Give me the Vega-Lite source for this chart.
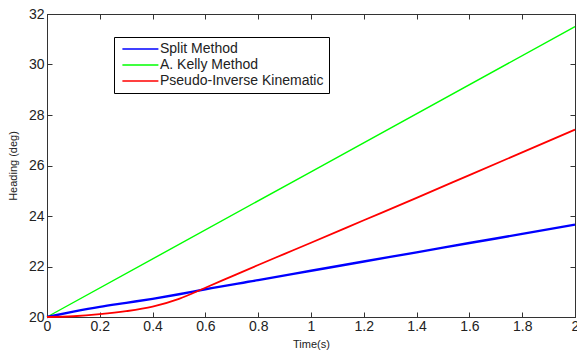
{
  "$schema": "https://vega.github.io/schema/vega-lite/v6.json",
  "width": 528,
  "height": 303,
  "autosize": {"type": "none"},
  "padding": {"left": 47, "top": 14, "right": 2, "bottom": 35},
  "background": "white",
  "config": {
    "view": {"stroke": "#333", "strokeWidth": 1},
    "axis": {
      "grid": false,
      "domainColor": "#333",
      "tickColor": "#333",
      "tickSize": -5,
      "labelColor": "#222",
      "labelFont": "Liberation Sans",
      "labelFontSize": 14,
      "titleFont": "Liberation Sans",
      "titleFontSize": 11,
      "titleFontWeight": "normal",
      "titleColor": "#222"
    },
    "legend": {
      "labelFont": "Liberation Sans",
      "labelFontSize": 14,
      "labelColor": "#222"
    }
  },
  "data": {
    "values": [
      {"t": 0, "v": 20, "series": "Split Method"},
      {"t": 0.1, "v": 20.21, "series": "Split Method"},
      {"t": 0.2, "v": 20.4, "series": "Split Method"},
      {"t": 0.3, "v": 20.56, "series": "Split Method"},
      {"t": 0.4, "v": 20.72, "series": "Split Method"},
      {"t": 0.5, "v": 20.9, "series": "Split Method"},
      {"t": 0.6, "v": 21.1, "series": "Split Method"},
      {"t": 0.8, "v": 21.46, "series": "Split Method"},
      {"t": 1.0, "v": 21.83, "series": "Split Method"},
      {"t": 1.2, "v": 22.2, "series": "Split Method"},
      {"t": 1.4, "v": 22.56, "series": "Split Method"},
      {"t": 1.6, "v": 22.93, "series": "Split Method"},
      {"t": 1.8, "v": 23.29, "series": "Split Method"},
      {"t": 2.0, "v": 23.66, "series": "Split Method"},
      {"t": 0, "v": 20, "series": "A. Kelly Method"},
      {"t": 1.0, "v": 25.75, "series": "A. Kelly Method"},
      {"t": 2.0, "v": 31.5, "series": "A. Kelly Method"},
      {"t": 0, "v": 20, "series": "Pseudo-Inverse Kinematic"},
      {"t": 0.1, "v": 20.03, "series": "Pseudo-Inverse Kinematic"},
      {"t": 0.2, "v": 20.11, "series": "Pseudo-Inverse Kinematic"},
      {"t": 0.3, "v": 20.23, "series": "Pseudo-Inverse Kinematic"},
      {"t": 0.4, "v": 20.41, "series": "Pseudo-Inverse Kinematic"},
      {"t": 0.5, "v": 20.72, "series": "Pseudo-Inverse Kinematic"},
      {"t": 0.6, "v": 21.16, "series": "Pseudo-Inverse Kinematic"},
      {"t": 0.7, "v": 21.61, "series": "Pseudo-Inverse Kinematic"},
      {"t": 0.8, "v": 22.06, "series": "Pseudo-Inverse Kinematic"},
      {"t": 0.9, "v": 22.5, "series": "Pseudo-Inverse Kinematic"},
      {"t": 1.0, "v": 22.94, "series": "Pseudo-Inverse Kinematic"},
      {"t": 1.2, "v": 23.83, "series": "Pseudo-Inverse Kinematic"},
      {"t": 1.4, "v": 24.72, "series": "Pseudo-Inverse Kinematic"},
      {"t": 1.6, "v": 25.62, "series": "Pseudo-Inverse Kinematic"},
      {"t": 1.8, "v": 26.52, "series": "Pseudo-Inverse Kinematic"},
      {"t": 2.0, "v": 27.42, "series": "Pseudo-Inverse Kinematic"}
    ]
  },
  "layer": [
    {
      "encoding": {
        "x": {
          "field": "t", "type": "quantitative",
          "scale": {"domain": [0, 2], "nice": false, "zero": false},
          "axis": {
            "values": [0, 0.2, 0.4, 0.6, 0.8, 1, 1.2, 1.4, 1.6, 1.8, 2],
            "format": "~g",
            "labelPadding": 7,
            "labelFlush": false,
            "title": "Time(s)",
            "titleX": 264, "titleY": 27, "titleBaseline": "middle"
          }
        },
        "y": {
          "field": "v", "type": "quantitative",
          "scale": {"domain": [20, 32], "nice": false, "zero": false},
          "axis": {
            "values": [20, 22, 24, 26, 28, 30, 32],
            "labelPadding": 8,
            "title": "Heading (deg)",
            "titleX": -34, "titleY": 151.5, "titleBaseline": "middle", "titleAngle": -90, "titleAlign": "center"
          }
        },
        "color": {
          "field": "series", "type": "nominal",
          "scale": {
            "domain": ["Split Method", "A. Kelly Method", "Pseudo-Inverse Kinematic"],
            "range": ["#0000ff", "#00ff00", "#ff0000"]
          },
          "legend": {
            "title": null,
            "orient": "none",
            "legendX": 67,
            "legendY": 23,
            "strokeColor": "#000",
            "fillColor": "white",
            "padding": 5,
            "symbolType": "M-0.6,0L5.4,0",
            "symbolSize": 144,
            "symbolStrokeWidth": 1.5,
            "labelOffset": 27,
            "labelLimit": 0,
            "rowPadding": 2
          }
        }
      },
      "layer": [
        {
          "transform": [{"filter": "datum.series === 'A. Kelly Method'"}],
          "mark": {"type": "line", "interpolate": "monotone", "strokeWidth": 1.4}
        },
        {
          "transform": [{"filter": "datum.series === 'Split Method'"}],
          "mark": {"type": "line", "interpolate": "monotone", "strokeWidth": 2.4}
        },
        {
          "transform": [{"filter": "datum.series === 'Pseudo-Inverse Kinematic'"}],
          "mark": {"type": "line", "interpolate": "monotone", "strokeWidth": 1.8}
        }
      ]
    },
    {
      "mark": {"type": "line", "opacity": 0},
      "encoding": {
        "x": {
          "field": "t", "type": "quantitative",
          "scale": {"domain": [0, 2], "nice": false, "zero": false},
          "axis": {"orient": "top", "values": [0, 0.2, 0.4, 0.6, 0.8, 1, 1.2, 1.4, 1.6, 1.8, 2], "labels": false, "domain": false, "title": null}
        },
        "y": {
          "field": "v", "type": "quantitative",
          "scale": {"domain": [20, 32], "nice": false, "zero": false},
          "axis": {"orient": "right", "values": [20, 22, 24, 26, 28, 30, 32], "labels": false, "domain": false, "title": null}
        }
      }
    }
  ],
  "resolve": {"axis": {"x": "independent", "y": "independent"}}
}
